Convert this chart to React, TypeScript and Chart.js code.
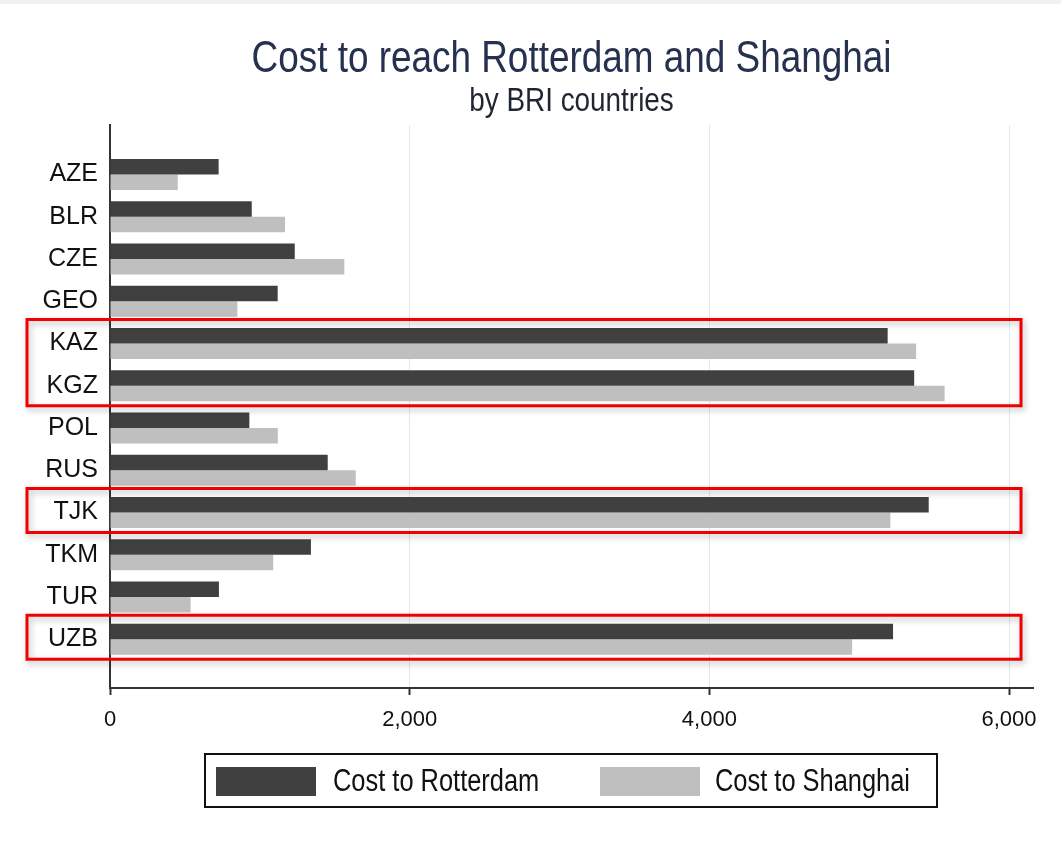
import { useEffect, useRef } from 'react';
import { Chart, registerables } from 'chart.js';

Chart.register(...registerables);

const categories = ['AZE', 'BLR', 'CZE', 'GEO', 'KAZ', 'KGZ', 'POL', 'RUS', 'TJK', 'TKM', 'TUR', 'UZB'];
const costToRotterdam = [725, 946, 1233, 1119, 5190, 5367, 930, 1453, 5464, 1341, 727, 5226];
const costToShanghai = [452, 1168, 1564, 850, 5380, 5570, 1120, 1640, 5208, 1089, 538, 4953];
const xTicks = [0, 2000, 4000, 6000];
const highlightGroups = [['KAZ', 'KGZ'], ['TJK'], ['UZB']];
const seriesLabels = ['Cost to Rotterdam', 'Cost to Shanghai'];
const seriesColors = ['#404040', '#bfbfbf'];
const titleText = 'Cost to reach Rotterdam and Shanghai';
const subtitleText = 'by BRI countries';

const REGULAR = '"Liberation Sans", Arial, sans-serif';
const SQUEEZE = 0.82;

function narrowText(ctx: any, text: string, x: number, y: number, size: number, align: string) {
  ctx.save();
  ctx.font = `${size}px ${REGULAR}`;
  ctx.textAlign = align;
  ctx.translate(x, y);
  ctx.scale(SQUEEZE, 1);
  ctx.fillText(text, 0, 0);
  ctx.restore();
}

const decorPlugin = {
  id: 'decor',
  beforeDraw(chart: any) {
    const { ctx, width, height } = chart;
    ctx.save();
    ctx.fillStyle = '#ffffff';
    ctx.fillRect(0, 0, width, height);
    ctx.fillStyle = '#eef2f4';
    ctx.fillRect(0, 0, width, 4);
    ctx.restore();
  },
  afterDraw(chart: any) {
    const { ctx, chartArea } = chart;
    const xs = chart.scales.x;
    const ys = chart.scales.y;
    const cx = (chartArea.left + chartArea.right) / 2;
    ctx.save();
    // titles
    ctx.textBaseline = 'alphabetic';
    ctx.fillStyle = '#263150';
    narrowText(ctx, titleText, cx, 72, 45, 'center');
    ctx.fillStyle = '#1f2533';
    narrowText(ctx, subtitleText, cx, 111, 34, 'center');

    // highlight rectangles
    const rectLeft = 27;
    const rectRight = xs.getPixelForValue(6000) + 12;
    highlightGroups.forEach((g) => {
      const i0 = categories.indexOf(g[0]);
      const i1 = categories.indexOf(g[g.length - 1]);
      const top = ys.getPixelForValue(i0) - 24;
      const bottom = ys.getPixelForValue(i1) + 20;
      ctx.save();
      ctx.shadowColor = 'rgba(0,0,0,0.28)';
      ctx.shadowBlur = 6;
      ctx.shadowOffsetX = 2;
      ctx.shadowOffsetY = 3;
      ctx.strokeStyle = '#f00000';
      ctx.lineWidth = 3;
      ctx.strokeRect(rectLeft, top, rectRight - rectLeft, bottom - top);
      ctx.restore();
    });

    // legend
    const lx = 205, ly = 754, lw = 732, lh = 53;
    ctx.strokeStyle = '#111';
    ctx.lineWidth = 2;
    ctx.strokeRect(lx, ly, lw, lh);
    const swX = [216, 600];
    const txX = [333, 715];
    ctx.textBaseline = 'middle';
    chart.data.datasets.forEach((ds: any, i: number) => {
      ctx.fillStyle = ds.backgroundColor;
      ctx.fillRect(swX[i], 767, 100, 29);
      ctx.fillStyle = '#111';
      narrowText(ctx, ds.label, txX[i], 782, 31, 'left');
    });
    ctx.restore();
  },
};

export default function App() {
  const ref = useRef<HTMLCanvasElement>(null);
  useEffect(() => {
    document.body.style.margin = '0';
    const canvas = ref.current!;
    const chart = new Chart(canvas, {
      type: 'bar',
      data: {
        datasets: [
          {
            label: seriesLabels[0],
            data: costToRotterdam.map((v, i) => ({ x: v, y: i })),
            backgroundColor: seriesColors[0],
            borderWidth: 0,
            categoryPercentage: 0.734,
            barPercentage: 1,
          },
          {
            label: seriesLabels[1],
            data: costToShanghai.map((v, i) => ({ x: v, y: i })),
            backgroundColor: seriesColors[1],
            borderWidth: 0,
            categoryPercentage: 0.734,
            barPercentage: 1,
          },
        ] as any,
      },
      plugins: [decorPlugin],
      options: {
        indexAxis: 'y',
        responsive: false,
        animation: false,
        devicePixelRatio: 1,
        layout: { padding: { left: 0, right: 28, top: 125, bottom: 0 } },
        plugins: {
          legend: { display: false },
          tooltip: { enabled: false },
          title: { display: false },
        },
        scales: {
          x: {
            type: 'linear',
            min: 0,
            max: 6160,
            afterBuildTicks: (s: any) => {
              s.ticks = xTicks.map((v) => ({ value: v }));
            },
            afterFit: (s: any) => {
              s.height = 156;
            },
            ticks: {
              padding: 12,
              color: '#111',
              font: { family: REGULAR, size: 22 },
              maxRotation: 0,
              callback: (v: any) => Number(v).toLocaleString('en-US'),
            },
            grid: {
              color: (c: any) => (c.tick && c.tick.value === 0 ? 'rgba(0,0,0,0)' : '#dfe9ec'),
              lineWidth: 1,
              tickColor: '#333',
              tickLength: 7,
              tickWidth: 2,
            },
            border: { display: true, color: '#333', width: 2 },
          },
          y: {
            type: 'linear',
            reverse: true,
            offset: false,
            min: -1.172,
            max: 12.154,
            afterBuildTicks: (s: any) => {
              s.ticks = categories.map((_, i) => ({ value: i }));
            },
            afterFit: (s: any) => {
              s.width = 110;
            },
            ticks: {
              padding: 4,
              color: '#111',
              font: { family: REGULAR, size: 25 },
              callback: (v: any) => categories[v] ?? '',
            },
            grid: { display: false },
            border: { display: true, color: '#333', width: 2 },
          },
        },
      } as any,
    });
    return () => chart.destroy();
  }, []);
  return <canvas ref={ref} width={1061} height={844} style={{ display: 'block', width: 1061, height: 844 }} />;
}
